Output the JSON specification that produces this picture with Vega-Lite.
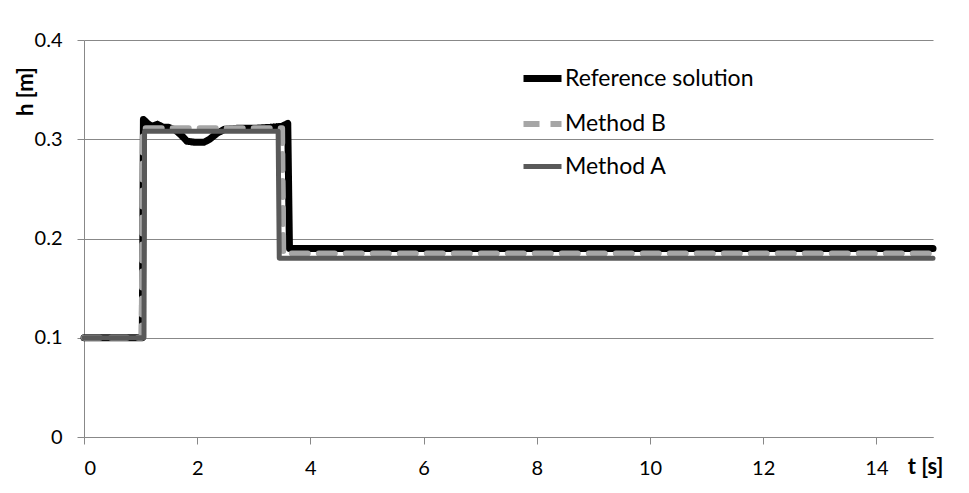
{
  "$schema": "https://vega.github.io/schema/vega-lite/v6.json",
  "width": 849,
  "height": 397,
  "autosize": {"type": "none"},
  "padding": {"left": 84, "top": 40, "right": 36, "bottom": 56},
  "background": "white",
  "config": {
    "view": {"stroke": null},
    "font": "Lato",
    "axis": {"labelFont": "Lato", "titleFont": "Lato", "labelColor": "#000000", "titleColor": "#000000"}
  },
  "data": {
    "values": [
      {"series": "Reference solution", "t": 0, "h": 0.1},
      {"series": "Reference solution", "t": 1.03, "h": 0.1},
      {"series": "Reference solution", "t": 1.05, "h": 0.32},
      {"series": "Reference solution", "t": 1.12, "h": 0.316},
      {"series": "Reference solution", "t": 1.2, "h": 0.313},
      {"series": "Reference solution", "t": 1.3, "h": 0.315},
      {"series": "Reference solution", "t": 1.4, "h": 0.312},
      {"series": "Reference solution", "t": 1.5, "h": 0.312},
      {"series": "Reference solution", "t": 1.62, "h": 0.309},
      {"series": "Reference solution", "t": 1.72, "h": 0.304},
      {"series": "Reference solution", "t": 1.82, "h": 0.298},
      {"series": "Reference solution", "t": 1.95, "h": 0.297},
      {"series": "Reference solution", "t": 2.12, "h": 0.297},
      {"series": "Reference solution", "t": 2.22, "h": 0.3},
      {"series": "Reference solution", "t": 2.35, "h": 0.306},
      {"series": "Reference solution", "t": 2.48, "h": 0.31},
      {"series": "Reference solution", "t": 2.7, "h": 0.311},
      {"series": "Reference solution", "t": 3.0, "h": 0.311},
      {"series": "Reference solution", "t": 3.3, "h": 0.312},
      {"series": "Reference solution", "t": 3.5, "h": 0.313},
      {"series": "Reference solution", "t": 3.6, "h": 0.316},
      {"series": "Reference solution", "t": 3.63, "h": 0.19},
      {"series": "Reference solution", "t": 15, "h": 0.19},
      {"series": "Method B", "t": 0, "h": 0.1},
      {"series": "Method B", "t": 1.02, "h": 0.1},
      {"series": "Method B", "t": 1.04, "h": 0.311},
      {"series": "Method B", "t": 3.5, "h": 0.311},
      {"series": "Method B", "t": 3.52, "h": 0.185},
      {"series": "Method B", "t": 15, "h": 0.185},
      {"series": "Method A", "t": 0, "h": 0.1},
      {"series": "Method A", "t": 1.06, "h": 0.1},
      {"series": "Method A", "t": 1.07, "h": 0.308},
      {"series": "Method A", "t": 3.43, "h": 0.308},
      {"series": "Method A", "t": 3.45, "h": 0.18},
      {"series": "Method A", "t": 15, "h": 0.18}
    ]
  },
  "encoding": {
    "x": {
      "field": "t", "type": "quantitative",
      "scale": {"domain": [0, 15], "nice": false, "zero": true},
      "axis": {
        "values": [0, 2, 4, 6, 8, 10, 12, 14],
        "grid": false,
        "domainColor": "#888888", "tickColor": "#888888",
        "tickSize": 7, "labelPadding": 14, "labelFontSize": 20,
        "title": "t [s]", "titleFontSize": 22, "titleFontWeight": "bold",
        "titleAlign": "center", "titleBaseline": "middle",
        "titleX": 841, "titleY": 29
      }
    },
    "y": {
      "field": "h", "type": "quantitative",
      "scale": {"domain": [0, 0.4], "nice": false},
      "axis": {
        "values": [0, 0.1, 0.2, 0.3, 0.4],
        "format": "~g",
        "grid": true, "gridColor": "#888888", "gridWidth": 1,
        "domainColor": "#888888", "tickColor": "#888888",
        "tickSize": 7, "labelPadding": 15, "labelFontSize": 20,
        "title": "h [m]", "titleFontSize": 22, "titleFontWeight": "bold",
        "titleAngle": -90, "titleAlign": "center", "titleBaseline": "middle",
        "titleX": -59, "titleY": 51
      }
    },
    "color": {
      "field": "series", "type": "nominal",
      "scale": {"domain": ["Reference solution", "Method B", "Method A"], "range": ["#000000", "#a6a6a6", "#595959"]},
      "legend": {
        "orient": "none", "legendX": 436, "legendY": 16,
        "title": null, "symbolType": "stroke", "symbolSize": 1444,
        "labelFontSize": 23, "labelFont": "Lato", "labelColor": "#000000",
        "labelLimit": 400,
        "labelOffset": 0, "rowPadding": 9, "padding": 0
      }
    },
    "strokeDash": {
      "field": "series", "type": "nominal",
      "scale": {"domain": ["Reference solution", "Method B", "Method A"], "range": [[1, 0], [16, 11], [1, 0]]},
      "legend": null
    },
    "strokeWidth": {
      "field": "series", "type": "nominal",
      "scale": {"domain": ["Reference solution", "Method B", "Method A"], "range": [7, 5, 6]},
      "legend": null
    }
  },
  "layer": [
    {"transform": [{"filter": "datum.series === 'Reference solution'"}], "mark": {"type": "line", "strokeCap": "round", "strokeJoin": "round"}},
    {"transform": [{"filter": "datum.series === 'Method B'"}], "mark": {"type": "line", "strokeCap": "round", "strokeJoin": "round"}},
    {"transform": [{"filter": "datum.series === 'Method A'"}], "mark": {"type": "line", "strokeCap": "round", "strokeJoin": "round"}}
  ]
}
